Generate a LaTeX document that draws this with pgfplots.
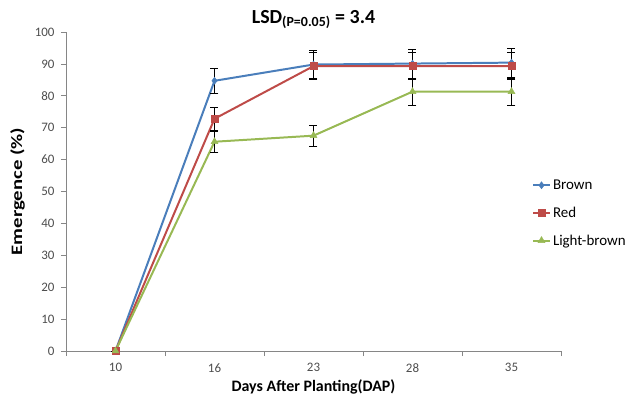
\documentclass[border=0pt]{standalone}
\usepackage{pgfplots}
\pgfplotsset{compat=1.18}
\usepackage{fontspec}
\setmainfont{Carlito}
\definecolor{cBlue}{HTML}{4A7EBB}
\definecolor{cRed}{HTML}{BE4B48}
\definecolor{cGreen}{HTML}{98B954}
\definecolor{axgray}{HTML}{868686}
\definecolor{txt}{HTML}{4D4D4D}
\pgfplotstableread{
x y e
0 0 0
1 84.7 4.0
2 89.8 4.5
3 90.1 4.5
4 90.4 4.5
}\brown
\pgfplotstableread{
x y e
0 0 0
1 72.8 3.6
2 89.3 4.2
3 89.3 4.2
4 89.3 4.2
}\red
\pgfplotstableread{
x y e
0 0 0
1 65.6 3.2
2 67.5 3.3
3 81.3 4.2
4 81.3 4.2
}\lbrown
\begin{document}
\begin{tikzpicture}[x=1bp,y=1bp]
\begin{axis}[
  scale only axis, width=495bp, height=319bp,
  xmin=-0.5, xmax=4.5, ymin=0, ymax=100,
  axis lines=left, axis line style={axgray,-},
  xtick={-0.5,0.5,...,4.5}, x tick label as interval,
  xticklabels={10,16,23,28,35},
  ytick={0,10,...,100},
  tick style={axgray, line width=0.6pt},
  major tick length=5bp,
  tick align=outside,
  ticklabel style={font=\fontsize{13}{15}\selectfont, text=txt},
  xticklabel style={yshift=-4bp},
  yticklabel style={xshift=-3bp},
  /pgf/number format/assume math mode=true,
  xlabel={\textbf{Days After Planting(DAP)}},
  ylabel={\scalebox{1.3}[1]{\textbf{Emergence (\%)}}},
  label style={font=\fontsize{16}{18}\selectfont, text=black},
  xlabel style={yshift=0bp},
  ylabel style={yshift=3bp},
  title={\textbf{LSD\textsubscript{(P=0.05)} = 3.4}},
  title style={font=\fontsize{20}{22}\selectfont, yshift=-6bp},
  legend style={draw=none, fill=none, at={(rel axis cs:0.935,0.55)}, anchor=north west,
    font=\fontsize{15}{17}\selectfont, row sep=12bp, legend cell align=left},
  every axis plot/.append style={line width=2pt},
  clip=false,
]
\addplot[cBlue, mark=diamond*, mark size=3.5pt, mark options={solid, fill=cBlue, line width=0.5pt},
  error bars/.cd, y dir=both, y explicit, error bar style={black, line width=0.8pt}, error mark options={rotate=90, black, mark size=4bp, line width=0.8pt}]
  table[x=x, y=y, y error=e] {\brown};
\addlegendentry{Brown}
\addplot[cRed, mark=square*, mark size=3.5pt, mark options={solid, fill=cRed, line width=0.5pt},
  error bars/.cd, y dir=both, y explicit, error bar style={black, line width=0.8pt}, error mark options={rotate=90, black, mark size=4bp, line width=0.8pt}]
  table[x=x, y=y, y error=e] {\red};
\addlegendentry{Red}
\addplot[cGreen, mark=triangle*, mark size=4pt, mark options={solid, fill=cGreen, line width=0.5pt},
  error bars/.cd, y dir=both, y explicit, error bar style={black, line width=0.8pt}, error mark options={rotate=90, black, mark size=4bp, line width=0.8pt}]
  table[x=x, y=y, y error=e] {\lbrown};
\addlegendentry{Light-brown}
\end{axis}
\pgfresetboundingbox
\path (current axis.south west) ++(-66bp,-48bp) coordinate (bbA);
\path (current axis.south west) ++(569bp,351bp) coordinate (bbB);
\path[use as bounding box] (bbA) rectangle (bbB);
\end{tikzpicture}
\end{document}
